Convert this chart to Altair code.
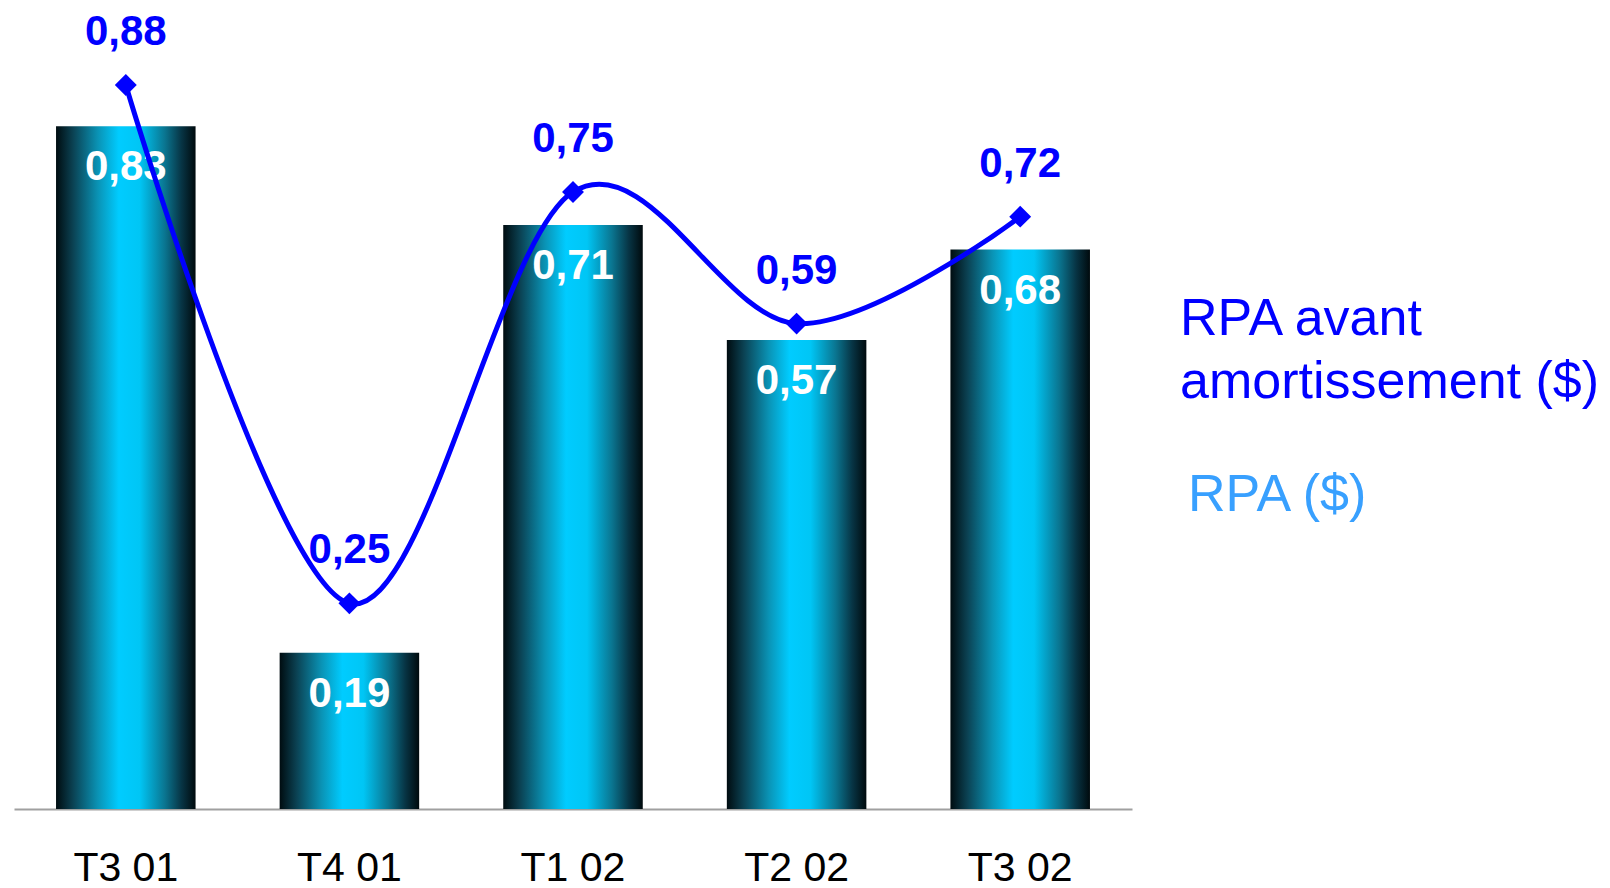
import altair as alt
import pandas as pd

quarters = ["T3 01", "T4 01", "T1 02", "T2 02", "T3 02"]
rpa = [0.83, 0.19, 0.71, 0.57, 0.68]
rpa_avant = [0.88, 0.25, 0.75, 0.59, 0.72]

rpa_txt = [f"{v:.2f}".replace(".", ",") for v in rpa]
avant_txt = [f"{v:.2f}".replace(".", ",") for v in rpa_avant]

df = pd.DataFrame({
    "q": quarters,
    "rpa": rpa,
    "avant": rpa_avant,
    "rpa_txt": rpa_txt,
    "avant_txt": avant_txt,
})

FONT = "Liberation Sans"
BLUE = "#0000FF"
LIGHT = "#38A0FF"

x_enc = alt.X(
    "q:N",
    sort=quarters,
    title=None,
    scale=alt.Scale(paddingInner=0.376, paddingOuter=0.188),
    axis=alt.Axis(
        labelAngle=0,
        labelFontSize=41,
        labelFont=FONT,
        labelColor="#000000",
        labelBaseline="alphabetic",
        labelPadding=71,
        ticks=False,
        domainColor="#A0A0A0",
        domainWidth=2,
        grid=False,
    ),
)
y_scale = alt.Scale(domain=[0, 0.97], nice=False, zero=True)

grad = alt.Gradient(
    gradient="linear",
    x1=0, x2=1, y1=0, y2=0,
    stops=[
        alt.GradientStop(color="#000C10", offset=0.0),
        alt.GradientStop(color="#0B4152", offset=0.12),
        alt.GradientStop(color="#0A93B5", offset=0.3),
        alt.GradientStop(color="#00CCFF", offset=0.45),
        alt.GradientStop(color="#00C6F5", offset=0.6),
        alt.GradientStop(color="#0A7590", offset=0.78),
        alt.GradientStop(color="#073444", offset=0.9),
        alt.GradientStop(color="#000A0D", offset=1.0),
    ],
)

base = alt.Chart(df)

bars = base.mark_bar(color=grad).encode(
    x=x_enc,
    y=alt.Y("rpa:Q", scale=y_scale, axis=None),
)

bar_labels = base.mark_text(
    font=FONT, fontSize=42, fontWeight="bold", color="white",
    baseline="middle", dy=41,
).encode(
    x=alt.X("q:N", sort=quarters),
    y=alt.Y("rpa:Q", scale=y_scale),
    text="rpa_txt:N",
)

line = base.mark_line(
    color=BLUE, strokeWidth=5, interpolate="cardinal",
).encode(
    x=alt.X("q:N", sort=quarters),
    y=alt.Y("avant:Q", scale=y_scale),
)

points = base.mark_point(
    shape="diamond", filled=True, color=BLUE, size=480, opacity=1,
).encode(
    x=alt.X("q:N", sort=quarters),
    y=alt.Y("avant:Q", scale=y_scale),
)

line_labels = base.mark_text(
    font=FONT, fontSize=42, fontWeight="bold", color=BLUE,
    baseline="middle", dy=-53,
).encode(
    x=alt.X("q:N", sort=quarters),
    y=alt.Y("avant:Q", scale=y_scale),
    text="avant_txt:N",
)

legend_df = pd.DataFrame({"t": ["RPA avant", "amortissement ($)", "RPA ($)"]})

leg1 = alt.Chart(legend_df.iloc[[0]]).mark_text(
    font=FONT, fontSize=52, color=BLUE, align="left", baseline="alphabetic",
).encode(x=alt.value(1166), y=alt.value(324), text="t:N")
leg2 = alt.Chart(legend_df.iloc[[1]]).mark_text(
    font=FONT, fontSize=52, color=BLUE, align="left", baseline="alphabetic",
).encode(x=alt.value(1166), y=alt.value(387), text="t:N")
leg3 = alt.Chart(legend_df.iloc[[2]]).mark_text(
    font=FONT, fontSize=52, color=LIGHT, align="left", baseline="alphabetic",
).encode(x=alt.value(1174), y=alt.value(500), text="t:N")

chart = alt.layer(
    bars, bar_labels, line, points, line_labels, leg1, leg2, leg3
).properties(
    width=1118,
    height=798,
    autosize=alt.AutoSizeParams(type="none"),
    padding={"left": 6, "top": 3, "right": 470, "bottom": 82},
).configure(
    background="white"
).configure_view(
    stroke=None
)

chart.save("out.html", embed_options={"renderer": "svg", "actions": False})
